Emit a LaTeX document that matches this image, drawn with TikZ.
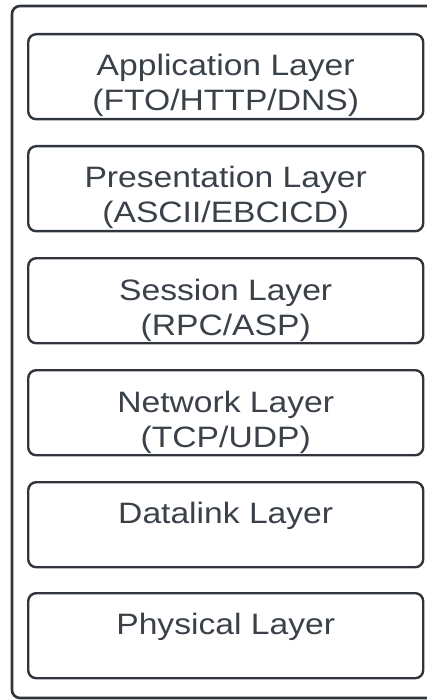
\documentclass[tikz,border=0pt]{standalone}
\usepackage{fontspec}
\setmainfont[FakeStretch=1.14]{Liberation Sans}
\definecolor{edge}{HTML}{30353C}
\definecolor{ink}{HTML}{3B4149}
\begin{document}
\begin{tikzpicture}[x=1pt,y=-1pt,
  layerbox/.style={draw=edge, line width=2.4pt, rounded corners=8pt,
    minimum width=395pt, minimum height=85pt, inner sep=0pt, anchor=north west},
  layertext/.style={text=ink, align=center, anchor=base, inner sep=0pt,
    font=\fontsize{29.5}{35}\selectfont}]
  \useasboundingbox (0,0) rectangle (427,700);
  \clip (0,0) rectangle (427,700);
  % outer frame, running off the right and bottom edges
  \draw[edge, line width=2.6pt, rounded corners=8pt] (12,6) rectangle (445,698);
  % stacked layers
  \foreach \name/\top in {app/33, pres/145, sess/257, net/369, dlink/481, phys/592}
    \node[layerbox] (\name) at (27,\top) {};
  % two-line labels are anchored on the baseline of their last line
  \node[layertext] (appT)   at ([yshift=-78pt]app.north)   {Application Layer\\(FTO/HTTP/DNS)};
  \node[layertext] (presT)  at ([yshift=-78pt]pres.north)  {Presentation Layer\\(ASCII/EBCICD)};
  \node[layertext] (sessT)  at ([yshift=-78pt]sess.north)  {Session Layer\\(RPC/ASP)};
  \node[layertext] (netT)   at ([yshift=-78pt]net.north)   {Network Layer\\(TCP/UDP)};
  \node[layertext] (dlinkT) at ([yshift=-42.5pt]dlink.north) {Datalink Layer};
  \node[layertext] (physT)  at ([yshift=-42.5pt]phys.north)  {Physical Layer};
\end{tikzpicture}
\end{document}
